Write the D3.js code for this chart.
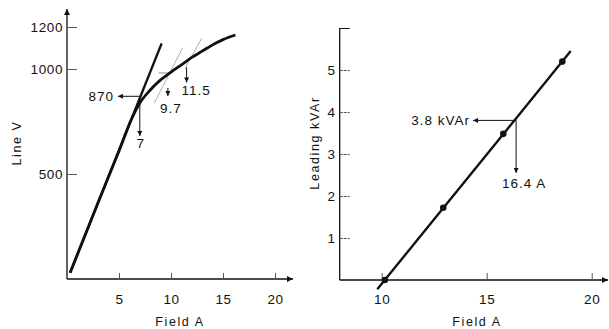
<!DOCTYPE html>
<html><head><meta charset="utf-8">
<script src="https://cdn.jsdelivr.net/npm/d3@7"></script>
<style>
body{margin:0;background:#fff;}
text{font-family:"Liberation Sans",Arial,sans-serif;fill:#111;}
</style></head><body>
<svg id="c" width="609" height="329"></svg>
<script>
// ---- Left chart data: open-circuit characteristic ----
const satField = [0.3, 3, 5, 6.3, 7, 8, 9, 10, 11, 12, 13, 14, 15, 16.2];
const satVolts = [30, 365, 610, 772, 838, 900, 948, 985, 1020, 1055, 1085, 1115, 1140, 1162];
const airField = [0.3, 9.1];
const airVolts = [30, 1122];
const constrA_F = [8.4, 11.1], constrA_V = [838, 1100];
const constrB_F = [11.35, 12.95], constrB_V = [1003, 1146];
const leftXTicks = [5, 10, 15, 20];
const leftYTicks = [500, 1000, 1200];
// ---- Right chart data: leading kVAr vs field ----
const ptsField = [10.15, 12.93, 15.79, 18.6];
const ptsKvar = [0, 1.72, 3.48, 5.2];
const fitField = [9.79, 19.0];
const fitKvar = [-0.22, 5.45];
const rightXTicks = [10, 15, 20];
const rightYTicks = [1, 2, 3, 4, 5, 6];

const svg = d3.select("#c");
const defs = svg.append("defs");
function marker(id, w, h){
  defs.append("marker").attr("id", id).attr("viewBox", "0 0 10 10")
    .attr("refX", 10).attr("refY", 5).attr("markerWidth", w).attr("markerHeight", h)
    .attr("markerUnits", "userSpaceOnUse").attr("orient", "auto")
    .append("path").attr("d", "M0,0 L10,5 L0,10 Z").attr("fill", "#111");
}
marker("ax", 10, 6);
marker("an", 8, 5);

const FS = 13.5;
function styleAxis(a){
  a.select(".domain").remove();
  a.selectAll(".tick line").attr("stroke", "#555").attr("stroke-width", 1);
  a.selectAll(".tick text").attr("font-size", FS).attr("letter-spacing", 0.6)
    .attr("font-family", "Liberation Sans, Arial, sans-serif").attr("fill", "#111");
}

// ===== Left chart =====
const xL = d3.scaleLinear().domain([0, 20]).range([67, 275]);
const yL = d3.scaleLinear().domain([0, 1200]).range([279, 27]);
const gL = svg.append("g");

gL.append("line").attr("x1", xL(0)).attr("y1", yL(0)).attr("x2", 293).attr("y2", yL(0))
  .attr("stroke", "#111").attr("stroke-width", 1.3).attr("marker-end", "url(#ax)");
gL.append("line").attr("x1", xL(0)).attr("y1", yL(0)).attr("x2", xL(0)).attr("y2", 9)
  .attr("stroke", "#111").attr("stroke-width", 1.3).attr("marker-end", "url(#ax)");

const axXL = gL.append("g").attr("transform", `translate(0,${yL(0)})`)
  .call(d3.axisBottom(xL).tickValues(leftXTicks).tickSizeInner(-6).tickSizeOuter(0).tickPadding(15).tickFormat(d3.format("d")));
const axYL = gL.append("g").attr("transform", `translate(${xL(0)},0)`)
  .call(d3.axisLeft(yL).tickValues(leftYTicks).tickSizeInner(-10).tickSizeOuter(0).tickPadding(4).tickFormat(d3.format("d")));
styleAxis(axXL); styleAxis(axYL);

[[constrA_F, constrA_V], [constrB_F, constrB_V]].forEach(([f, v]) => {
  gL.append("line").attr("x1", xL(f[0])).attr("y1", yL(v[0])).attr("x2", xL(f[1])).attr("y2", yL(v[1]))
    .attr("stroke", "#999").attr("stroke-width", 0.8);
});
gL.append("line").attr("x1", xL(8.8)).attr("x2", xL(10.1)).attr("y1", yL(981)).attr("y2", yL(981))
  .attr("stroke", "#777").attr("stroke-width", 0.8);

const lineL = d3.line().x(d => xL(d[0])).y(d => yL(d[1]));
gL.append("path").datum(d3.zip(airField, airVolts)).attr("d", lineL)
  .attr("fill", "none").attr("stroke", "#111").attr("stroke-width", 2.4);
gL.append("path").datum(d3.zip(satField, satVolts)).attr("d", lineL.curve(d3.curveMonotoneX))
  .attr("fill", "none").attr("stroke", "#111").attr("stroke-width", 2.8);

function arrow(g, x1, y1, x2, y2){
  g.append("line").attr("x1", x1).attr("y1", y1).attr("x2", x2).attr("y2", y2)
    .attr("stroke", "#111").attr("stroke-width", 1).attr("marker-end", "url(#an)");
}
arrow(gL, xL(7), yL(870), xL(4.9), yL(870));
arrow(gL, xL(7), yL(870), xL(7), yL(681));
arrow(gL, xL(9.7), yL(910), xL(9.7), yL(872));
arrow(gL, xL(11.5), yL(1008), xL(11.5), yL(936));
const tL = (x, y, s, a) => gL.append("text").attr("x", x).attr("y", y).attr("text-anchor", a || "start")
  .attr("font-size", FS).attr("letter-spacing", 1).text(s);
tL(xL(4.9) - 4, yL(870) + 5, "870", "end");
tL(xL(7) + 1, 148, "7", "middle");
tL(xL(9.7) + 3, 113, "9.7", "middle");
tL(xL(11.5) - 5, 95, "11.5", "start");
gL.append("text").attr("x", 180).attr("y", 326).attr("text-anchor", "middle").attr("font-size", 12.5).attr("letter-spacing", 1.6).text("Field A");
gL.append("text").attr("transform", "translate(21,143) rotate(-90)").attr("text-anchor", "middle").attr("font-size", 12.5).attr("letter-spacing", 1.6).text("Line V");

// ===== Right chart =====
const xR = d3.scaleLinear().domain([10, 20]).range([381.7, 591.7]);
const yR = d3.scaleLinear().domain([0, 5]).range([280, 70]);
const gR = svg.append("g");
gR.append("line").attr("x1", xR(8)).attr("y1", yR(0)).attr("x2", 608).attr("y2", yR(0))
  .attr("stroke", "#111").attr("stroke-width", 1.3).attr("marker-end", "url(#ax)");
gR.append("line").attr("x1", xR(8)).attr("y1", yR(0)).attr("x2", xR(8)).attr("y2", yR(6))
  .attr("stroke", "#111").attr("stroke-width", 1.3);
const axXR = gR.append("g").attr("transform", `translate(0,${yR(0)})`)
  .call(d3.axisBottom(xR).tickValues(rightXTicks).tickSizeInner(-7).tickSizeOuter(0).tickPadding(14).tickFormat(d3.format("d")));
const axYR = gR.append("g").attr("transform", `translate(${xR(8)},0)`)
  .call(d3.axisLeft(yR).tickValues(rightYTicks).tickSizeInner(-10).tickSizeOuter(0).tickPadding(4).tickFormat(d => d === 6 ? "" : d));
styleAxis(axXR); styleAxis(axYR);
axYR.selectAll(".tick line").attr("stroke-dasharray", d => d === 6 ? null : "3,1");
axYR.selectAll(".tick").filter(d => d === 6).select("line").attr("stroke", "#111");

gR.append("path").datum(d3.zip(fitField, fitKvar))
  .attr("d", d3.line().x(d => xR(d[0])).y(d => yR(d[1])))
  .attr("fill", "none").attr("stroke", "#111").attr("stroke-width", 2.4);
gR.selectAll("circle").data(d3.zip(ptsField, ptsKvar)).join("circle")
  .attr("cx", d => xR(d[0])).attr("cy", d => yR(d[1])).attr("r", 3.3).attr("fill", "#111");

arrow(gR, xR(16.4), yR(3.8), xR(14.35), yR(3.8));
arrow(gR, xR(16.4), yR(3.8), xR(16.4), yR(2.55));
gR.append("text").attr("x", xR(14.35) - 3).attr("y", yR(3.8) + 5).attr("text-anchor", "end")
  .attr("font-size", FS).attr("letter-spacing", 1).text("3.8 kVAr");
gR.append("text").attr("x", 502).attr("y", 188).attr("font-size", FS).attr("letter-spacing", 1).text("16.4 A");
gR.append("text").attr("x", 477).attr("y", 326).attr("text-anchor", "middle").attr("font-size", 12.5).attr("letter-spacing", 1.6).text("Field A");
gR.append("text").attr("transform", "translate(319,143) rotate(-90)").attr("text-anchor", "middle").attr("font-size", 12.5).attr("letter-spacing", 1.6).text("Leading kVAr");
</script></body></html>
